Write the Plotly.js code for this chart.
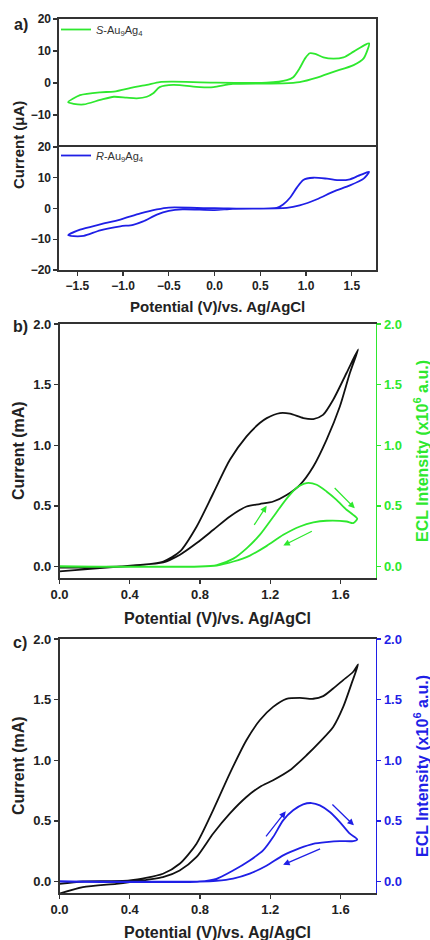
<!DOCTYPE html>
<html>
<head>
<meta charset="utf-8">
<script src="https://cdn.plot.ly/plotly-3.0.1.min.js"></script>
<style>html,body{margin:0;padding:0;background:#fff;}#chart{width:430px;height:940px;}</style>
</head>
<body>
<div id="chart"></div>
<script>
// ---------- DATA ----------
// Panel a (top): S-Au9Ag4 CV, closed loop (µA)
const sPot = [-1.60,-1.47,-1.25,-1.10,-0.89,-0.74,-0.60,-0.45,-0.01,0.57,0.79,0.86,0.93,0.99,1.04,1.10,1.19,1.30,1.41,1.52,1.65,1.69,1.63,1.52,1.30,1.12,0.93,0.75,0.20,-0.01,-0.16,-0.45,-0.60,-0.67,-0.74,-0.85,-0.96,-1.10,-1.25,-1.43,-1.54,-1.60];
const sCur = [-6.0,-3.8,-2.9,-2.7,-1.4,-0.6,0.3,0.4,0.1,0.1,0.9,1.8,4.6,7.7,9.3,9.1,8.0,7.6,8.0,9.8,12.0,12.4,7.7,5.6,3.5,1.7,0.3,-0.1,-0.3,-1.3,-1.3,-0.6,-1.3,-3.2,-4.3,-4.8,-4.6,-4.3,-5.3,-6.7,-6.5,-6.0];
// Panel a (bottom): R-Au9Ag4 CV
const rPot = [-1.60,-1.47,-1.25,-1.03,-0.81,-0.63,-0.50,0.00,0.68,0.75,0.825,0.90,0.97,1.08,1.23,1.37,1.48,1.57,1.66,1.69,1.63,1.48,1.30,1.12,0.93,0.79,0.20,0.00,-0.35,-0.50,-0.63,-0.78,-0.89,-1.03,-1.25,-1.43,-1.54,-1.60];
const rCur = [-8.7,-6.9,-5.2,-3.6,-1.6,-0.3,0.3,0.1,0.2,1.3,3.5,6.8,9.3,10.0,9.7,9.2,9.5,10.6,11.7,11.9,9.7,7.5,5.5,3.0,1.0,0.2,-0.1,-0.5,-0.3,-0.8,-2.0,-4.2,-5.3,-5.8,-7.1,-8.9,-9.0,-8.7];
// Panel b: CV (mA) and ECL (x10^6 a.u.)
const bCvPot = [0,0.23,0.42,0.591,0.686,0.781,0.876,0.97,1.065,1.14,1.217,1.293,1.369,1.445,1.52,1.596,1.653,1.70,1.634,1.558,1.50,1.445,1.388,1.312,1.255,1.18,1.14,1.065,0.97,0.876,0.781,0.686,0.591,0.42,0.23,0];
const bCvCur = [-0.04,-0.014,0.008,0.033,0.097,0.193,0.303,0.413,0.495,0.515,0.536,0.59,0.674,0.825,1.045,1.32,1.596,1.79,1.596,1.375,1.25,1.216,1.224,1.26,1.265,1.224,1.183,1.073,0.88,0.606,0.33,0.124,0.041,0.006,-0.006,-0.01];
const bEclPot = [0,0.80,0.895,0.99,1.065,1.14,1.217,1.293,1.35,1.407,1.464,1.52,1.577,1.634,1.672,1.695,1.672,1.634,1.52,1.445,1.369,1.274,1.18,1.084,0.99,0.895,0.80,0];
const bEclInt = [0,0,0.012,0.065,0.15,0.26,0.41,0.56,0.65,0.688,0.674,0.619,0.55,0.468,0.426,0.393,0.358,0.371,0.377,0.363,0.33,0.261,0.17,0.09,0.041,0.008,0,0];
// Panel c
const cCvPot = [0,0.133,0.323,0.40,0.589,0.684,0.779,0.874,0.969,1.064,1.14,1.216,1.311,1.406,1.482,1.558,1.615,1.663,1.70,1.672,1.615,1.558,1.501,1.444,1.368,1.292,1.216,1.14,1.064,0.969,0.874,0.779,0.684,0.589,0.40,0.133,0];
const cCvCur = [-0.10,-0.047,-0.019,-0.005,0.036,0.091,0.2,0.394,0.56,0.697,0.78,0.835,0.917,1.041,1.152,1.275,1.44,1.634,1.79,1.73,1.661,1.592,1.529,1.507,1.515,1.507,1.44,1.33,1.165,0.89,0.587,0.31,0.146,0.064,0.008,0,-0.019];
const cEclPot = [0,0.798,0.893,0.988,1.083,1.159,1.216,1.273,1.33,1.387,1.435,1.482,1.539,1.596,1.653,1.695,1.672,1.596,1.52,1.444,1.368,1.273,1.178,1.083,0.988,0.893,0.798,0];
const cEclInt = [0,0,0.022,0.091,0.174,0.256,0.366,0.504,0.587,0.636,0.647,0.628,0.573,0.49,0.394,0.347,0.333,0.333,0.325,0.311,0.275,0.215,0.13,0.065,0.024,0.006,0,0];
// Scan-direction arrows (tail -> head), data units
const bArrowTailX = [1.103,1.558,1.445], bArrowTailY = [0.33,0.66,0.297];
const bArrowHeadX = [1.179,1.681,1.274], bArrowHeadY = [0.50,0.48,0.173];
const cArrowTailX = [1.169,1.545,1.492], cArrowTailY = [0.36,0.647,0.275];
const cArrowHeadX = [1.288,1.676,1.273], cArrowHeadY = [0.579,0.463,0.138];
// Tick labels
const aXTicks = [-1.5,-1.0,-0.5,0.0,0.5,1.0,1.5];
const aYTicksTop = [20,10,0,-10];
const aYTicksBot = [20,10,0,-10,-20];
const bcXTicks = [0.0,0.4,0.8,1.2,1.6];
const bcYTicks = [0.0,0.5,1.0,1.5,2.0];

// ---------- STYLE ----------
const W = 430, H = 940;
const px = v => v / W;
const py = v => 1 - v / H;
const FONT = 'Liberation Sans, Arial, sans-serif';
const GREEN = '#2ee82e', BLUE = '#1f1fe6', BLACK = '#111111', AXIS = '#333333';
const tickFont = (c, s) => ({family: FONT, size: s || 13, color: c || '#222', weight: 'bold'});

function axisBase(extra) {
  return Object.assign({
    showline: true, linecolor: AXIS, linewidth: 1.6, ticks: 'outside', ticklen: 4, tickwidth: 1.3,
    tickcolor: AXIS, showgrid: false, zeroline: false, tickfont: tickFont(), fixedrange: true
  }, extra);
}

const line = (c) => ({color: c, width: 1.8, shape: 'spline', smoothing: 0.7});

const traces = [
  {x: sPot, y: sCur, xaxis: 'x', yaxis: 'y', mode: 'lines', line: line(GREEN),
   name: '<i>S</i>-Au<sub>9</sub>Ag<sub>4</sub>', legend: 'legend'},
  {x: rPot, y: rCur, xaxis: 'x2', yaxis: 'y2', mode: 'lines', line: line(BLUE),
   name: '<i>R</i>-Au<sub>9</sub>Ag<sub>4</sub>', legend: 'legend2'},
  {x: bCvPot, y: bCvCur, xaxis: 'x3', yaxis: 'y3', mode: 'lines', line: line(BLACK), showlegend: false},
  {x: bEclPot, y: bEclInt, xaxis: 'x3', yaxis: 'y4', mode: 'lines', line: line(GREEN), showlegend: false},
  {x: cCvPot, y: cCvCur, xaxis: 'x4', yaxis: 'y5', mode: 'lines', line: line(BLACK), showlegend: false},
  {x: cEclPot, y: cEclInt, xaxis: 'x4', yaxis: 'y6', mode: 'lines', line: line(BLUE), showlegend: false}
];

const aDomX = [px(59), px(376)];
const bcDomX = [px(59.5), px(375.7)];
const tickFmt = '.1f';
const aTick = tickFont('#222', 12);

const layout = {
  width: W, height: H, margin: {l: 0, r: 0, t: 0, b: 0},
  paper_bgcolor: '#fff', plot_bgcolor: 'rgba(0,0,0,0)',
  font: {family: FONT, color: '#222'},
  xaxis: axisBase({domain: aDomX, anchor: 'y', side: 'top', range: [-1.70, 1.765], tickvals: aXTicks, showticklabels: false, ticks: ''}),
  yaxis: axisBase({domain: [py(147), py(19)], anchor: 'x', range: [-20, 20], tickvals: aYTicksTop, mirror: true, tickfont: aTick}),
  xaxis2: axisBase({domain: aDomX, anchor: 'y2', range: [-1.70, 1.765], tickvals: aXTicks, tickformat: tickFmt, mirror: true, tickfont: aTick}),
  yaxis2: axisBase({domain: [py(270), py(147)], anchor: 'x2', range: [-20, 20], tickvals: aYTicksBot, mirror: true, tickfont: aTick}),
  xaxis3: axisBase({domain: bcDomX, anchor: 'y3', range: [0, 1.8], tickvals: bcXTicks, tickformat: tickFmt, mirror: true}),
  yaxis3: axisBase({domain: [py(578), py(324)], anchor: 'x3', range: [-0.095, 2.0], tickvals: bcYTicks, tickformat: tickFmt}),
  yaxis4: axisBase({overlaying: 'y3', side: 'right', anchor: 'x3', range: [-0.095, 2.0], tickvals: bcYTicks, tickformat: tickFmt,
    linecolor: GREEN, tickcolor: GREEN, tickfont: tickFont(GREEN)}),
  xaxis4: axisBase({domain: bcDomX, anchor: 'y5', range: [0, 1.8], tickvals: bcXTicks, tickformat: tickFmt, mirror: true}),
  yaxis5: axisBase({domain: [py(893), py(639)], anchor: 'x4', range: [-0.095, 2.0], tickvals: bcYTicks, tickformat: tickFmt}),
  yaxis6: axisBase({overlaying: 'y5', side: 'right', anchor: 'x4', range: [-0.095, 2.0], tickvals: bcYTicks, tickformat: tickFmt,
    linecolor: BLUE, tickcolor: BLUE, tickfont: tickFont(BLUE)}),
  legend: {x: px(56), y: py(15), xanchor: 'left', yanchor: 'top', bgcolor: 'rgba(0,0,0,0)', borderwidth: 0,
    itemwidth: 30, font: {family: FONT, size: 11, color: '#333'}},
  legend2: {x: px(56), y: py(141), xanchor: 'left', yanchor: 'top', bgcolor: 'rgba(0,0,0,0)', borderwidth: 0,
    itemwidth: 30, font: {family: FONT, size: 11, color: '#333'}},
  showlegend: true,
  annotations: []
};

const titleFont = (c, s) => ({family: FONT, size: s || 16, color: c || '#222', weight: 'bold'});
function addText(text, x, y, opts) {
  layout.annotations.push(Object.assign({text: text, xref: 'paper', yref: 'paper', x: px(x), y: py(y),
    xanchor: 'center', yanchor: 'middle', showarrow: false, font: titleFont()}, opts || {}));
}
addText('a)', 21, 24, {font: titleFont('#222', 16)});
addText('b)', 20, 326, {font: titleFont('#222', 16)});
addText('c)', 20, 642, {font: titleFont('#222', 16)});
addText('Current (μA)', 18, 145, {textangle: -90, font: titleFont('#222', 15)});
addText('Potential (V)/vs. Ag/AgCl', 217, 306, {font: titleFont('#222', 15)});
addText('Current (mA)', 18, 451, {textangle: -90});
addText('ECL Intensity (x10<sup>6</sup> a.u.)', 421, 451, {textangle: -90, font: titleFont(GREEN)});
addText('Potential (V)/vs. Ag/AgCl', 217, 618);
addText('Current (mA)', 18, 766, {textangle: -90});
addText('ECL Intensity (x10<sup>6</sup> a.u.)', 421, 766, {textangle: -90, font: titleFont(BLUE)});
addText('Potential (V)/vs. Ag/AgCl', 217, 932);

function addArrows(tx, ty, hx, hy, xr, yr, color) {
  for (let i = 0; i < tx.length; i++) {
    layout.annotations.push({x: hx[i], y: hy[i], ax: tx[i], ay: ty[i], xref: xr, yref: yr, axref: xr, ayref: yr,
      text: '', showarrow: true, arrowhead: 2, arrowsize: 1, arrowwidth: 1.3, arrowcolor: color});
  }
}
addArrows(bArrowTailX, bArrowTailY, bArrowHeadX, bArrowHeadY, 'x3', 'y4', GREEN);
addArrows(cArrowTailX, cArrowTailY, cArrowHeadX, cArrowHeadY, 'x4', 'y6', BLUE);

Plotly.newPlot('chart', traces, layout, {staticPlot: true, displayModeBar: false});
</script>
</body>
</html>
